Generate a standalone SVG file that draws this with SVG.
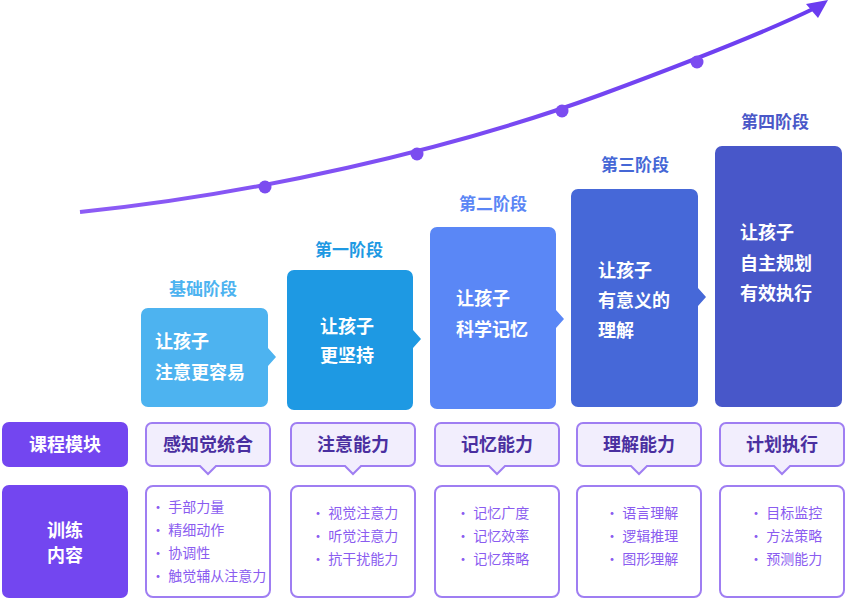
<svg xmlns="http://www.w3.org/2000/svg" width="860" height="601" viewBox="0 0 860 601">
<defs>
<style>
text{font-family:"Noto Sans CJK SC","Noto Sans",sans-serif;font-weight:bold}
.t{font-size:17px}
.w{fill:#fff;font-size:18px}
.mod{fill:#F2EEFD;stroke:#9F7EF2;stroke-width:2}
.mt{fill:#4A2FA0;font-size:18px;text-anchor:middle}
.cb{fill:#fff;stroke:#9F7EF2;stroke-width:2}
.ct{fill:#8A5CF0;font-size:14px;font-weight:normal}
.lab{fill:#7346F0}
</style>
<linearGradient id="g" x1="0" x2="1"><stop offset="0" stop-color="#8D5CF5"/><stop offset="1" stop-color="#6A3CF0"/></linearGradient>
</defs>
<g id="connectors">
<path d="M80,212 C250,195 450,150 600,95 C700,58 770,30 815,8" fill="none" stroke="url(#g)" stroke-width="4"/>
<polygon points="828,0 806,4 818,18" fill="#6A3CF0"/>
<g fill="#7B4CF0"><circle cx="265" cy="187" r="6.5"/><circle cx="417" cy="154" r="6.5"/><circle cx="562" cy="111" r="6.5"/><circle cx="697" cy="62" r="6.5"/></g>
</g>
<g id="stage0"><text x="203" y="295" class="t" fill="#4DB3F0" text-anchor="middle">基础阶段</text>
<path d="M148,308H261a7,7 0 0 1 7,7V348l8,9-8,9V400a7,7 0 0 1-7,7H148a7,7 0 0 1-7-7V315a7,7 0 0 1 7-7Z" fill="#4DB3F0"/>
<text x="155" y="348" class="w">让孩子</text><text x="155" y="379" class="w">注意更容易</text></g>
<g id="stage1"><text x="349" y="256" class="t" fill="#1E99E3" text-anchor="middle">第一阶段</text>
<path d="M294,270H406a7,7 0 0 1 7,7V330l8,9-8,9V403a7,7 0 0 1-7,7H294a7,7 0 0 1-7-7V277a7,7 0 0 1 7-7Z" fill="#1E99E3"/>
<text x="320" y="333" class="w">让孩子</text><text x="320" y="362" class="w">更坚持</text></g>
<g id="stage2"><text x="493" y="210" class="t" fill="#5B86F5" text-anchor="middle">第二阶段</text>
<path d="M437,227H549a7,7 0 0 1 7,7V310l8,9-8,9V402a7,7 0 0 1-7,7H437a7,7 0 0 1-7-7V234a7,7 0 0 1 7-7Z" fill="#5A87F6"/>
<text x="456" y="305" class="w">让孩子</text><text x="456" y="336" class="w">科学记忆</text></g>
<g id="stage3"><text x="635" y="171" class="t" fill="#4567D6" text-anchor="middle">第三阶段</text>
<path d="M578,189H691a7,7 0 0 1 7,7V288l8,9-8,9V400a7,7 0 0 1-7,7H578a7,7 0 0 1-7-7V196a7,7 0 0 1 7-7Z" fill="#4668D8"/>
<text x="598" y="277" class="w">让孩子</text><text x="598" y="307" class="w">有意义的</text><text x="598" y="337" class="w">理解</text></g>
<g id="stage4"><text x="775" y="128" class="t" fill="#4A58C8" text-anchor="middle">第四阶段</text>
<rect x="715" y="146" width="127" height="261" rx="7" fill="#4857C9"/>
<text x="740" y="239" class="w">让孩子</text><text x="740" y="270" class="w">自主规划</text><text x="740" y="300" class="w">有效执行</text></g>
<g id="rowlabels">
<rect x="2" y="422" width="126" height="45" rx="7" class="lab"/><text x="65" y="451" class="w" text-anchor="middle">课程模块</text>
<rect x="2" y="485" width="126" height="113" rx="7" class="lab"/><text x="65" y="537" class="w" text-anchor="middle">训练</text><text x="65" y="562" class="w" text-anchor="middle">内容</text>
</g>
<g id="mod0"><path d="M152,423H264a6,6 0 0 1 6,6V460a6,6 0 0 1-6,6H216l-8,8-8-8H152a6,6 0 0 1-6-6V429a6,6 0 0 1 6-6Z" class="mod"/><text x="208" y="451" class="mt">感知觉统合</text></g>
<g id="mod1"><path d="M297,423H409a6,6 0 0 1 6,6V460a6,6 0 0 1-6,6H361l-8,8-8-8H297a6,6 0 0 1-6-6V429a6,6 0 0 1 6-6Z" class="mod"/><text x="353" y="451" class="mt">注意能力</text></g>
<g id="mod2"><path d="M441,423H553a6,6 0 0 1 6,6V460a6,6 0 0 1-6,6H505l-8,8-8-8H441a6,6 0 0 1-6-6V429a6,6 0 0 1 6-6Z" class="mod"/><text x="497" y="451" class="mt">记忆能力</text></g>
<g id="mod3"><path d="M583,423H695a6,6 0 0 1 6,6V460a6,6 0 0 1-6,6H647l-8,8-8-8H583a6,6 0 0 1-6-6V429a6,6 0 0 1 6-6Z" class="mod"/><text x="639" y="451" class="mt">理解能力</text></g>
<g id="mod4"><path d="M726,423H838a6,6 0 0 1 6,6V460a6,6 0 0 1-6,6H790l-8,8-8-8H726a6,6 0 0 1-6-6V429a6,6 0 0 1 6-6Z" class="mod"/><text x="782" y="451" class="mt">计划执行</text></g>
<g id="c0"><rect x="146" y="486" width="124" height="111" rx="7" class="cb"/>
<text class="ct" x="151" y="512">· 手部力量</text><text class="ct" x="151" y="535">· 精细动作</text><text class="ct" x="151" y="558">· 协调性</text><text class="ct" x="151" y="581">· 触觉辅从注意力</text></g>
<g id="c1"><rect x="291" y="486" width="124" height="111" rx="7" class="cb"/>
<text class="ct" x="311" y="518">· 视觉注意力</text><text class="ct" x="311" y="541">· 听觉注意力</text><text class="ct" x="311" y="564">· 抗干扰能力</text></g>
<g id="c2"><rect x="435" y="486" width="124" height="111" rx="7" class="cb"/>
<text class="ct" x="456" y="518">· 记忆广度</text><text class="ct" x="456" y="541">· 记忆效率</text><text class="ct" x="456" y="564">· 记忆策略</text></g>
<g id="c3"><rect x="577" y="486" width="124" height="111" rx="7" class="cb"/>
<text class="ct" x="605" y="518">· 语言理解</text><text class="ct" x="605" y="541">· 逻辑推理</text><text class="ct" x="605" y="564">· 图形理解</text></g>
<g id="c4"><rect x="720" y="486" width="124" height="111" rx="7" class="cb"/>
<text class="ct" x="749" y="518">· 目标监控</text><text class="ct" x="749" y="541">· 方法策略</text><text class="ct" x="749" y="564">· 预测能力</text></g>
</svg>
